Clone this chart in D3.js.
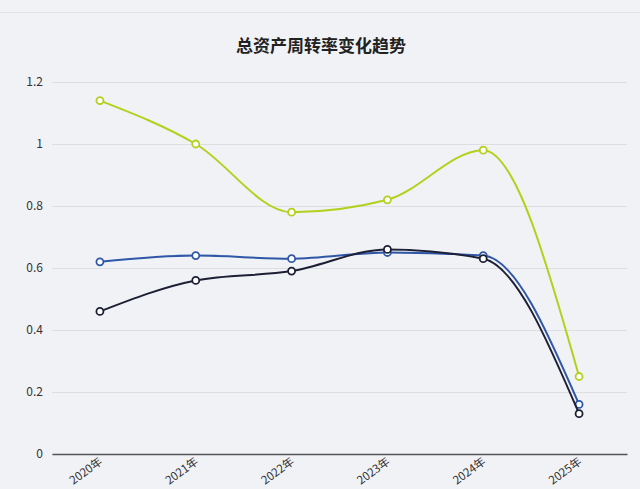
<!DOCTYPE html>
<html>
<head>
<meta charset="utf-8">
<script src="https://cdn.jsdelivr.net/npm/d3@7"></script>
<style>
  body { margin: 0; background: #f1f2f6; }
  svg { display: block; font-family: "Noto Sans CJK SC", "Noto Sans", sans-serif; }
</style>
</head>
<body>
<svg width="640" height="489"></svg>
<script>
// data
var years = ["2020年", "2021年", "2022年", "2023年", "2024年", "2025年"];
var greenValues = [1.14, 1.0, 0.78, 0.82, 0.98, 0.25];
var blueValues = [0.62, 0.64, 0.63, 0.65, 0.64, 0.16];
var darkValues = [0.46, 0.56, 0.59, 0.66, 0.63, 0.13];
var yTicks = [0, 0.2, 0.4, 0.6, 0.8, 1, 1.2];
var title = "总资产周转率变化趋势";

var series = [
  { name: "green", values: greenValues, color: "#b4cf1c" },
  { name: "blue", values: blueValues, color: "#2f57a8" },
  { name: "dark", values: darkValues, color: "#1d2035" }
];

var svg = d3.select("svg");
let margin = { top: 82, right: 13, bottom: 35, left: 52 };
let plotWidth = 640 - margin.left - margin.right;
let plotHeight = 489 - margin.top - margin.bottom;

// thin rule across the top of the page
svg.append("line")
  .attr("x1", 0).attr("x2", 640)
  .attr("y1", 12.5).attr("y2", 12.5)
  .attr("stroke", "#e2e4e8");

svg.append("text")
  .attr("x", 321).attr("y", 44)
  .attr("text-anchor", "middle")
  .attr("dominant-baseline", "central")
  .style("font-size", "17px")
  .style("font-weight", "bold")
  .style("fill", "#222")
  .text(title);

let plot = svg.append("g")
  .attr("transform", "translate(" + margin.left + "," + margin.top + ")");

let xScale = d3.scaleBand().domain(years).range([0, plotWidth]);
let yScale = d3.scaleLinear().domain([0, 1.2]).range([plotHeight, 0]);

//gridlines and y labels
let yAxis = d3.axisLeft(yScale).tickValues(yTicks).tickSize(-plotWidth).tickPadding(9)
  .tickFormat(function(d) { return d3.format("~g")(d); });
let yGroup = plot.append("g").call(yAxis);
yGroup.select(".domain").remove();
yGroup.selectAll(".tick line").attr("stroke", "#dcdee2");
yGroup.selectAll(".tick text")
  .style("font-size", "12px")
  .style("fill", "#333")
  .style("font-family", "'Noto Sans CJK SC', sans-serif");

//x axis, labels turned so they end at the tick
let xAxis = d3.axisBottom(xScale).tickSize(0).tickPadding(0);
let xGroup = plot.append("g")
  .attr("transform", "translate(0," + plotHeight + ")")
  .call(xAxis);
xGroup.select(".domain").attr("stroke", "#555").attr("stroke-width", 1.5);
xGroup.selectAll(".tick text")
  .attr("text-anchor", "end")
  .attr("y", 0)
  .attr("dy", "0.35em")
  .attr("transform", "translate(1,6) rotate(-36)")
  .style("font-size", "11.5px")
  .style("fill", "#333")
  .style("font-family", "'Noto Sans CJK SC', sans-serif");

let line = d3.line()
  .x(function(d, i) { return xScale(years[i]) + xScale.bandwidth() / 2; })
  .y(function(d) { return yScale(d); })
  .curve(d3.curveMonotoneX);

series.forEach(function(s) {
  let g = plot.append("g");
  g.append("path")
    .attr("d", line(s.values))
    .attr("fill", "none")
    .attr("stroke", s.color)
    .attr("stroke-width", 2);
  g.selectAll("circle")
    .data(s.values)
    .enter().append("circle")
    .attr("cx", function(d, i) { return xScale(years[i]) + xScale.bandwidth() / 2; })
    .attr("cy", function(d) { return yScale(d); })
    .attr("r", 3.5)
    .attr("fill", "#fff")
    .attr("stroke", s.color)
    .attr("stroke-width", 1.8);
});
</script>
</body>
</html>
